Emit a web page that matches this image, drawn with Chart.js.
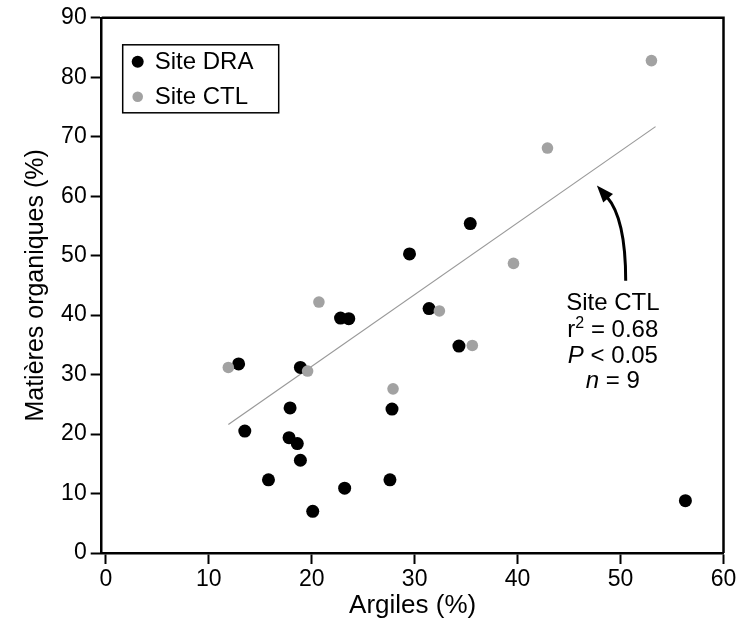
<!DOCTYPE html>
<html>
<head>
<meta charset="utf-8">
<script src="https://cdn.jsdelivr.net/npm/chart.js@4.4.1/dist/chart.umd.min.js"></script>
<style>
  html, body { margin: 0; padding: 0; background: #fff; }
  #wrap { width: 741px; height: 636px; }
</style>
</head>
<body>
<div id="wrap"><canvas id="chart" width="741" height="636"></canvas></div>
<script>
// values
const draX = [12.9, 13.5, 15.8, 17.8, 17.9, 18.6, 18.9, 18.9, 20.1, 22.8, 23.2, 23.6, 27.6, 27.8, 29.5, 31.4, 34.3, 35.4, 56.3];
const draY = [31.8, 20.5, 12.3, 19.4, 24.4, 18.4, 15.6, 31.2, 7.0, 39.5, 10.9, 39.4, 12.3, 24.2, 50.3, 41.1, 34.8, 55.4, 8.8];
const ctlX = [11.9, 19.6, 20.7, 27.9, 32.4, 35.6, 39.6, 42.9, 53.0];
const ctlY = [31.2, 30.6, 42.2, 27.6, 40.7, 34.9, 48.7, 68.1, 82.8];
// regression line for Site CTL (end points)
const fitX = [11.9, 53.4];
const fitY = [21.6, 71.7];

const xTicks = [0, 10, 20, 30, 40, 50, 60];
const yTicks = [0, 10, 20, 30, 40, 50, 60, 70, 80, 90];
const seriesNames = ['Site DRA', 'Site CTL'];
const xTitle = 'Argiles (%)';
const yTitle = 'Matières organiques (%)';

// annotation (arrow in data units, text lines)
const arrowTail = [50.5, 45.8];
const arrowCtrl = [50.5, 56.3];
const arrowTip = [47.7, 61.8];
const noteX = 49.25;
const noteY = [41.9, 37.4, 33.1, 28.8];

const FONT = '"Liberation Sans", Arial, sans-serif';
const BLACK = '#000000';
const GREY = '#a2a2a2';

const toPts = (xs, ys) => xs.map((v, i) => ({ x: v, y: ys[i] }));

const extras = {
  id: 'extras',
  afterDatasetsDraw(chart) {
    const { ctx, chartArea: a, scales: { x, y } } = chart;
    ctx.save();

    // frame (top + right)
    ctx.strokeStyle = BLACK;
    ctx.lineWidth = 2.5;
    ctx.beginPath();
    ctx.moveTo(a.left, a.top);
    ctx.lineTo(a.right, a.top);
    ctx.lineTo(a.right, a.bottom);
    ctx.stroke();

    // curved arrow
    const px = p => [x.getPixelForValue(p[0]), y.getPixelForValue(p[1])];
    const t0 = px(arrowTail), c0 = px(arrowCtrl), tip = px(arrowTip);
    const ang = Math.atan2(tip[1] - c0[1], tip[0] - c0[0]);
    const headLen = 17, headW = 6.5;
    const base = [tip[0] - headLen * Math.cos(ang), tip[1] - headLen * Math.sin(ang)];
    ctx.lineWidth = 3;
    ctx.beginPath();
    ctx.moveTo(t0[0], t0[1]);
    ctx.quadraticCurveTo(c0[0], c0[1], base[0] + 2 * Math.cos(ang), base[1] + 2 * Math.sin(ang));
    ctx.stroke();
    ctx.fillStyle = BLACK;
    ctx.beginPath();
    ctx.moveTo(tip[0], tip[1]);
    ctx.lineTo(base[0] + headW * Math.sin(ang), base[1] - headW * Math.cos(ang));
    ctx.lineTo(base[0] - headW * Math.sin(ang), base[1] + headW * Math.cos(ang));
    ctx.closePath();
    ctx.fill();

    // annotation text
    const cx = x.getPixelForValue(noteX);
    const big = '24px ' + FONT, small = '16px ' + FONT, ital = 'italic 24px ' + FONT;
    ctx.textBaseline = 'middle';
    ctx.textAlign = 'left';
    const runs = [
      [['Site CTL', big, 0]],
      [['r', big, 0], ['2', small, -7], [' = 0.68', big, 0]],
      [['P', ital, 0], [' < 0.05', big, 0]],
      [['n', ital, 0], [' = 9', big, 0]]
    ];
    runs.forEach((parts, i) => {
      let w = 0;
      parts.forEach(p => { ctx.font = p[1]; w += ctx.measureText(p[0]).width; });
      let sx = cx - w / 2;
      const sy = y.getPixelForValue(noteY[i]);
      parts.forEach(p => {
        ctx.font = p[1];
        ctx.fillText(p[0], sx, sy + p[2]);
        sx += ctx.measureText(p[0]).width;
      });
    });

    // legend box inside plot
    const lx = a.left + 21, ly = a.top + 27, lw = 156, lh = 68;
    ctx.fillStyle = '#ffffff';
    ctx.fillRect(lx, ly, lw, lh);
    ctx.strokeStyle = BLACK;
    ctx.lineWidth = 1.5;
    ctx.strokeRect(lx, ly, lw, lh);
    const dsets = chart.data.datasets;
    [0, 1].forEach(i => {
      const ds = dsets[i];
      const rowY = ly + 17 + i * 35;
      ctx.fillStyle = ds.backgroundColor;
      ctx.beginPath();
      ctx.arc(lx + 15, rowY, ds.pointRadius - 0.5, 0, Math.PI * 2);
      ctx.fill();
      ctx.fillStyle = BLACK;
      ctx.font = '24px ' + FONT;
      ctx.fillText(ds.label, lx + 32, rowY + 1);
    });

    ctx.restore();
  }
};

new Chart(document.getElementById('chart'), {
  type: 'scatter',
  data: {
    datasets: [
      {
        label: seriesNames[0],
        data: toPts(draX, draY),
        backgroundColor: BLACK,
        borderColor: BLACK,
        pointRadius: 6.5,
        pointBorderWidth: 0,
        order: 2
      },
      {
        label: seriesNames[1],
        data: toPts(ctlX, ctlY),
        backgroundColor: GREY,
        borderColor: GREY,
        pointRadius: 5.8,
        pointBorderWidth: 0,
        order: 1
      },
      {
        label: 'fit',
        data: toPts(fitX, fitY),
        showLine: true,
        borderColor: '#999999',
        borderWidth: 1.2,
        pointRadius: 0,
        order: 3
      }
    ]
  },
  options: {
    responsive: false,
    devicePixelRatio: 1,
    animation: false,
    layout: { padding: { top: 13, right: 17.5, left: 0, bottom: 0 } },
    plugins: {
      legend: { display: false },
      tooltip: { enabled: false }
    },
    scales: {
      x: {
        type: 'linear',
        min: -0.4,
        max: 60,
        afterBuildTicks: s => { s.ticks = xTicks.map(v => ({ value: v })); },
        afterFit: s => { s.height = 83; },
        grid: { drawOnChartArea: false, tickLength: 11, tickColor: BLACK, tickWidth: 2 },
        border: { display: true, color: BLACK, width: 2.5 },
        ticks: { color: BLACK, font: { family: FONT, size: 23 }, padding: 2, maxRotation: 0 },
        title: { display: true, text: xTitle, color: BLACK, font: { family: FONT, size: 26 }, padding: { top: 0, bottom: 15 } }
      },
      y: {
        type: 'linear',
        min: 0,
        max: 90,
        afterBuildTicks: s => { s.ticks = yTicks.map(v => ({ value: v })); },
        afterFit: s => { s.width = 101.7; },
        grid: { drawOnChartArea: false, tickLength: 11, tickColor: BLACK, tickWidth: 2 },
        border: { display: true, color: BLACK, width: 2.5 },
        ticks: { color: BLACK, font: { family: FONT, size: 23 }, padding: 4 },
        title: { display: true, text: yTitle, color: BLACK, font: { family: FONT, size: 25 }, padding: { top: 21, bottom: 0 } }
      }
    }
  },
  plugins: [extras]
});
</script>
</body>
</html>
